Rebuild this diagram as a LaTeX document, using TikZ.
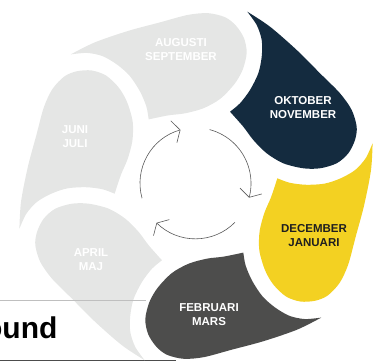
\documentclass[tikz,border=0pt]{standalone}
\usepackage{fontspec}
\setmainfont{Liberation Sans}
\usepackage{tikz}
\usetikzlibrary{arrows.meta}

\definecolor{petalgray}{HTML}{E5E6E5}
\definecolor{petalnavy}{HTML}{142B3F}
\definecolor{petalyellow}{HTML}{F3D122}
\definecolor{petaldark}{HTML}{4D4D4C}
\definecolor{textdark}{HTML}{1F1F1F}

\tikzset{
  pics/petal/.style={code={
    \fill[#1] plot[smooth] coordinates {(51.3,174.3) (74,159.3) (100.7,136) (124,112.7) (144,92.7) (155.7,76) (160.7,59.3) (159,46) (152.3,32.7) (140.7,22.7) (124,17.7) (107.3,17.7) (87.3,22.7) (70.7,32.7) (57.3,46) (47.3,59.3) (34,74.3)}
      -- plot[smooth] coordinates {(34,74.3) (44,82.7) (54,96) (62.3,112.7) (65.7,129.3) (65.7,146) (60.7,161) (51.3,174.3)} -- cycle;
  }},
  month/.style={font=\bfseries\fontsize{11.5}{14}\selectfont, align=center, text=white},
  cycarrow/.style={draw=black!65, line width=0.6pt, -{Straight Barb[angle=120:13pt]}}
}

\begin{document}
\begin{tikzpicture}[x=1pt,y=1pt]
\useasboundingbox (0,0) rectangle (388,363);
\clip (0,0) rectangle (388,363);
\coordinate (p) at (196,177);
\coordinate (c) at (195.5,179.7);

% rules of the slide
\coordinate (bota) at (0,2.5);
\coordinate (botb) at (176,2.5);
\draw[black!70, line width=1.8pt] (bota) -- (botb);
\node[font=\bfseries\fontsize{30}{36}\selectfont, anchor=base east] (title) at (61,24) {ound};

% petals
\pic[rotate=0] at (p) {petal=petalnavy};
\pic[rotate=-60] at (p) {petal=petalyellow};
\pic[rotate=-120] at (p) {petal=petaldark};
\pic[rotate=180] at (p) {petal=petalgray};
\pic[rotate=120] at (p) {petal=petalgray};
\pic[rotate=60] at (p) {petal=petalgray};

\coordinate (rulea) at (0,63);
\coordinate (ruleb) at (146,63);
\draw[black!25, line width=0.8pt] (rulea) -- (ruleb);

% months
\node[month] (augsep) at (181,313) {AUGUSTI\\SEPTEMBER};
\node[month] (oktnov) at (303,255) {OKTOBER\\NOVEMBER};
\node[month] (junjul) at (75,226) {JUNI\\JULI};
\node[month, text=textdark] (decjan) at (314,127) {DECEMBER\\JANUARI};
\node[month] (aprmaj) at (91,103) {APRIL\\MAJ};
\node[month] (febmar) at (209,48) {FEBRUARI\\MARS};

% cycle arrows
\draw[cycarrow] ([shift={(195.6:55.5)}]c) arc[start angle=195.6, end angle=105.7, radius=55.5];
\draw[cycarrow] ([shift={(75.3:55.5)}]c) arc[start angle=75.3, end angle=-15, radius=55.5];
\draw[cycarrow] ([shift={(-44.7:55.5)}]c) arc[start angle=-44.7, end angle=-134.6, radius=55.5];
\end{tikzpicture}
\end{document}
